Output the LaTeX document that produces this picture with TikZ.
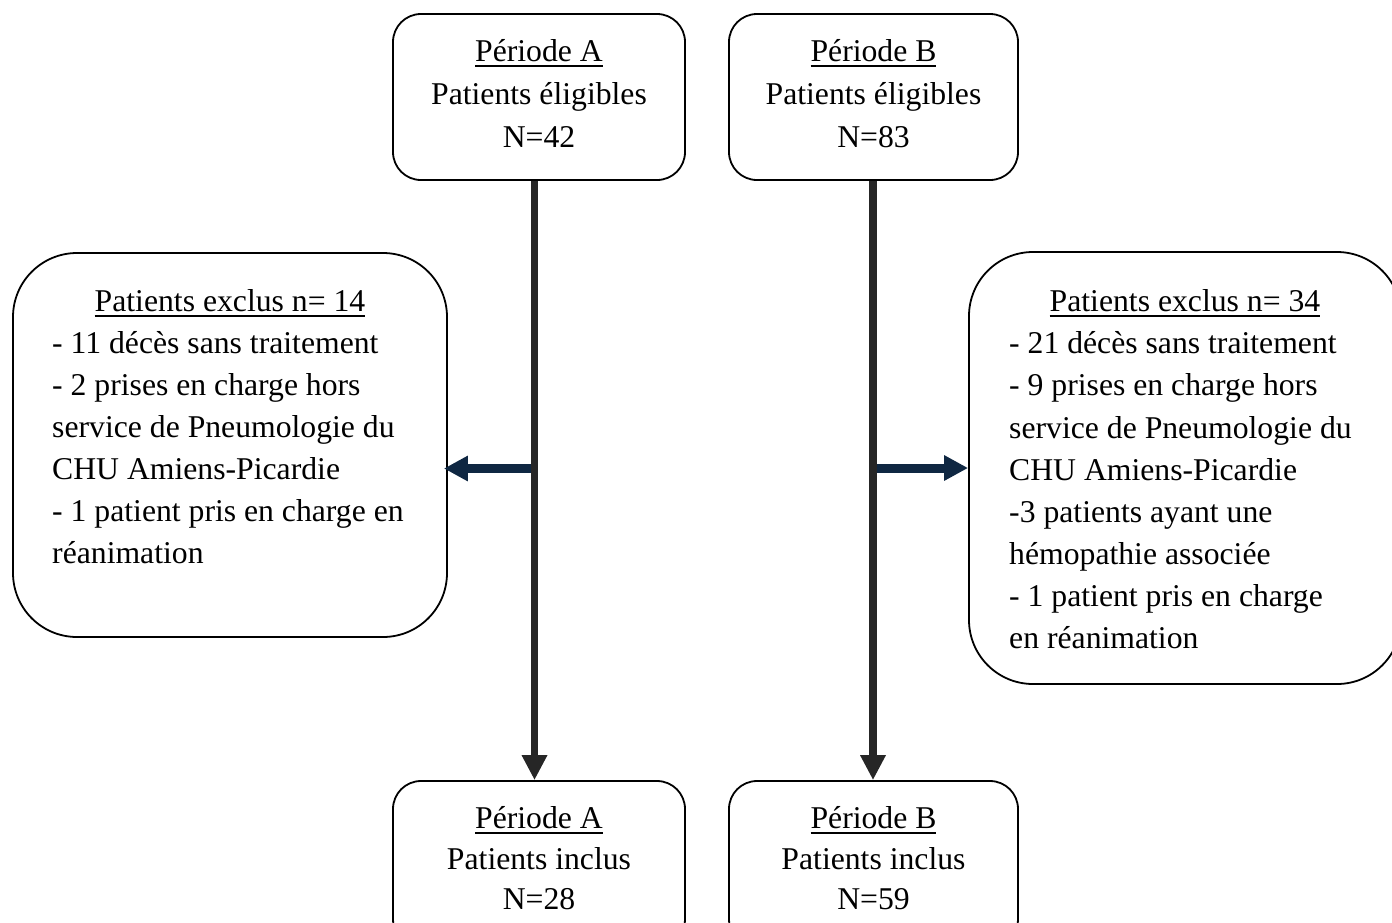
\documentclass[tikz,border=0pt]{standalone}
\usepackage{fontspec}
\setmainfont{Liberation Serif}
\usetikzlibrary{arrows.meta,calc}
\newcommand\myul[1]{\setbox0\hbox{#1}\rlap{\rule[-5.5pt]{\wd0}{1.6pt}}\box0}
\definecolor{vline}{HTML}{262626}
\definecolor{hline}{HTML}{0F2742}
\tikzset{
  box/.style={draw=black,line width=1.8pt,rectangle,inner sep=0pt},
  smallbox/.style={box,rounded corners=28pt},
  bigbox/.style={box,rounded corners=64pt},
  txt/.style={inner sep=0pt,anchor=base,font=\fontsize{31.7}{42.4}\selectfont},
  txtl/.style={txt,anchor=base west},
  varrow/.style={draw=vline,line width=7.5pt,-{Triangle[length=25pt,width=24pt]}},
  harrow/.style={draw=hline,line width=9pt,-{Triangle[length=24pt,width=24pt]}},
}
\begin{document}
\begin{tikzpicture}[x=1pt,y=-1pt]
\useasboundingbox (0,0) rectangle (1392,922);
% boxes
\node[smallbox,minimum width=292pt,minimum height=166pt] (topA) at (539,97) {};
\node[smallbox,minimum width=289pt,minimum height=166pt] (topB) at (873.5,97) {};
\node[smallbox,minimum width=292pt,minimum height=166pt] (botA) at (539,864) {};
\node[smallbox,minimum width=289pt,minimum height=166pt] (botB) at (873.5,864) {};
\node[bigbox,minimum width=434pt,minimum height=384pt] (exA) at (230,445) {};
\node[bigbox,minimum width=432pt,minimum height=432pt] (exB) at (1185,468) {};
% top texts
\node[txt] (ta1) at (539,61) {\myul{Période A}};
\node[txt] (ta2) at (539,104) {Patients éligibles};
\node[txt] (ta3) at (539,147) {N=42};
\node[txt] (tb1) at (873.5,61) {\myul{Période B}};
\node[txt] (tb2) at (873.5,104) {Patients éligibles};
\node[txt] (tb3) at (873.5,147) {N=83};
% bottom texts
\node[txt] (ba1) at (539,828) {\myul{Période A}};
\node[txt] (ba2) at (539,869) {Patients inclus};
\node[txt] (ba3) at (539,909) {N=28};
\node[txt] (bb1) at (873.5,828) {\myul{Période B}};
\node[txt] (bb2) at (873.5,869) {Patients inclus};
\node[txt] (bb3) at (873.5,909) {N=59};
% left exclusion texts
\node[txt] (ea0) at (230,311) {\myul{Patients exclus n= 14}};
\node[txtl] (ea1) at (52,353) {- 11 décès sans traitement};
\node[txtl] (ea2) at (52,395) {- 2 prises en charge hors};
\node[txtl] (ea3) at (52,437) {service de Pneumologie du};
\node[txtl] (ea4) at (52,479) {CHU Amiens-Picardie};
\node[txtl] (ea5) at (52,521) {- 1 patient pris en charge en};
\node[txtl] (ea6) at (52,563) {réanimation};
% right exclusion texts
\node[txt] (eb0) at (1185,311) {\myul{Patients exclus n= 34}};
\node[txtl] (eb1) at (1009,353) {- 21 décès sans traitement};
\node[txtl] (eb2) at (1009,395.5) {- 9 prises en charge hors};
\node[txtl] (eb3) at (1009,438) {service de Pneumologie du};
\node[txtl] (eb4) at (1009,480.5) {CHU Amiens-Picardie};
\node[txtl] (eb5) at (1009,522.5) {-3 patients ayant une};
\node[txtl] (eb6) at (1009,564.5) {hémopathie associée};
\node[txtl] (eb7) at (1009,606.5) {- 1 patient pris en charge};
\node[txtl] (eb8) at (1009,648.5) {en réanimation};
% connectors
\coordinate (jA) at (534.5,468.5);
\coordinate (jB) at (873,468);
\draw[harrow] (jA) -- ([xshift=-4pt]exA.east |- jA);
\draw[harrow] (jB) -- (exB.west |- jB);
\draw[varrow] ([xshift=-4.5pt]topA.south) -- ([xshift=-4.5pt]botA.north);
\draw[varrow] ([xshift=-0.5pt]topB.south) -- ([xshift=-0.5pt]botB.north);
\end{tikzpicture}
\end{document}
